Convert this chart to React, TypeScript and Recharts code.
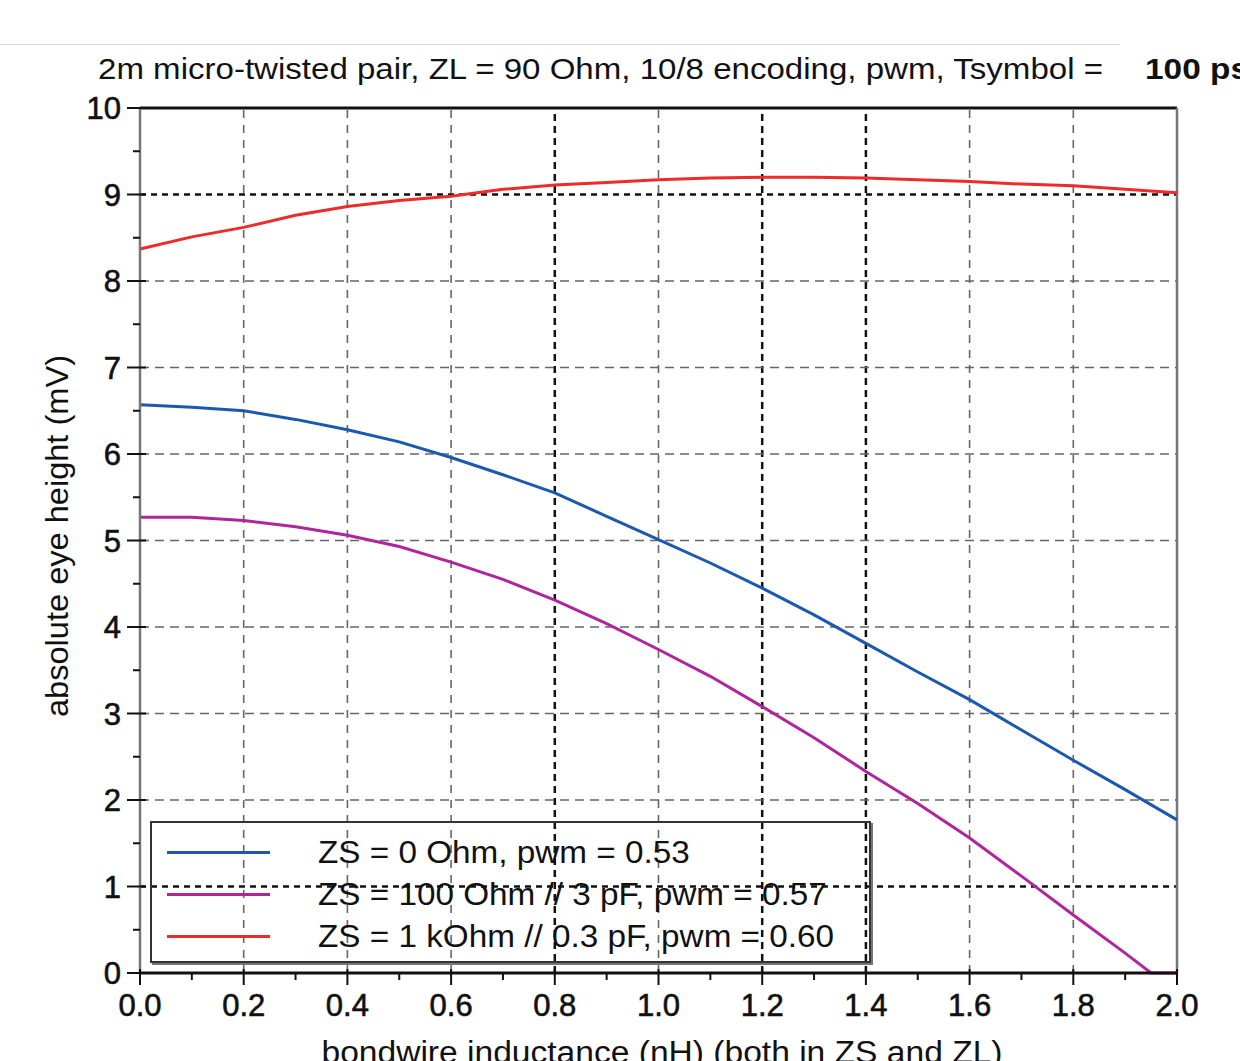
import React from "react";
import { LineChart, Line, XAxis, YAxis, ReferenceLine, Legend } from "recharts";

const titleText = "2m micro-twisted pair, ZL = 90 Ohm, 10/8 encoding, pwm, Tsymbol =";
const titleTail = "100 ps";
const xLabel = "bondwire inductance (nH) (both in ZS and ZL)";
const yLabel = "absolute eye height (mV)";

// x positions (nH)
const xs = [0, 0.1, 0.2, 0.3, 0.4, 0.5, 0.6, 0.7, 0.8, 0.9, 1.0, 1.1, 1.2, 1.3, 1.4, 1.5, 1.6, 1.7, 1.8, 1.9, 2.0];
const xsPurple = [0, 0.1, 0.2, 0.3, 0.4, 0.5, 0.6, 0.7, 0.8, 0.9, 1.0, 1.1, 1.2, 1.3, 1.4, 1.5, 1.6, 1.7, 1.8, 1.9, 1.95, 2.0];

const zs0 = [6.57, 6.54, 6.5, 6.4, 6.28, 6.14, 5.96, 5.76, 5.55, 5.28, 5.01, 4.74, 4.45, 4.14, 3.81, 3.48, 3.16, 2.81, 2.46, 2.12, 1.77];
const zs100 = [5.27, 5.27, 5.23, 5.16, 5.06, 4.93, 4.75, 4.55, 4.31, 4.04, 3.74, 3.43, 3.08, 2.72, 2.33, 1.96, 1.56, 1.12, 0.67, 0.23, 0, 0];
const zs1k = [8.37, 8.51, 8.62, 8.76, 8.86, 8.93, 8.98, 9.06, 9.11, 9.14, 9.17, 9.19, 9.2, 9.2, 9.19, 9.17, 9.15, 9.12, 9.1, 9.06, 9.02];

const seriesNames = [
  "ZS = 0 Ohm, pwm = 0.53",
  "ZS = 100 Ohm // 3 pF, pwm = 0.57",
  "ZS = 1 kOhm // 0.3 pF, pwm = 0.60",
];

const xMajorTicks = [0, 0.2, 0.4, 0.6, 0.8, 1.0, 1.2, 1.4, 1.6, 1.8, 2.0];
const xAllTicks = [0, 0.1, 0.2, 0.3, 0.4, 0.5, 0.6, 0.7, 0.8, 0.9, 1.0, 1.1, 1.2, 1.3, 1.4, 1.5, 1.6, 1.7, 1.8, 1.9, 2.0];
const xTickLabels = ["0.0", "0.2", "0.4", "0.6", "0.8", "1.0", "1.2", "1.4", "1.6", "1.8", "2.0"];
const yMajorTicks = [0, 1, 2, 3, 4, 5, 6, 7, 8, 9, 10];
const yAllTicks = [0, 0.5, 1, 1.5, 2, 2.5, 3, 3.5, 4, 4.5, 5, 5.5, 6, 6.5, 7, 7.5, 8, 8.5, 9, 9.5, 10];

const blueData = xs.map((x, i) => ({ x, y: zs0[i] }));
const purpleData = xsPurple.map((x, i) => ({ x, y: zs100[i] }));
const redData = xs.map((x, i) => ({ x, y: zs1k[i] }));

const FONT = "'Liberation Sans', Arial, sans-serif";
const heavyX = [0.8, 1.2, 1.4];
const heavyY = [1, 9];

const near = (a: number, b: number) => Math.abs(a - b) < 1e-6;

const XTick = (props: any) => {
  const { x, y, payload } = props;
  const idx = xMajorTicks.findIndex((t) => near(t, payload.value));
  const major = idx >= 0;
  return (
    <g>
      <line x1={x} x2={x} y1={y - (major ? 4 : 0)} y2={y + (major ? 12 : 7)} stroke="#111" strokeWidth={2} />
      {major && (
        <text x={x} y={y + 43} textAnchor="middle" fontSize={31} fontFamily={FONT} fill="#111" stroke="#111" strokeWidth={0.6}>
          {xTickLabels[idx]}
        </text>
      )}
    </g>
  );
};

const YTick = (props: any) => {
  const { x, y, payload } = props;
  const major = yMajorTicks.some((t) => near(t, payload.value));
  return (
    <g>
      <line x1={x - (major ? 13 : 7)} x2={x + (major ? 6 : 0)} y1={y} y2={y} stroke="#111" strokeWidth={2} />
      {major && (
        <text x={x - 19} y={y + 11} textAnchor="end" fontSize={31} fontFamily={FONT} fill="#111" stroke="#111" strokeWidth={0.6}>
          {payload.value}
        </text>
      )}
    </g>
  );
};

const LegendBox = (props: any) => {
  const items = [...(props.payload || [])].sort(
    (a: any, b: any) => seriesNames.indexOf(a.value) - seriesNames.indexOf(b.value)
  );
  return (
    <div
      style={{
        width: 717,
        height: 138,
        border: "2px solid #333",
        boxShadow: "2px 2px 0 #777",
        boxSizing: "content-box",
        fontFamily: FONT,
        position: "relative",
      }}
    >
      {items.map((it: any, i: number) => (
        <div key={i} style={{ position: "absolute", left: 0, top: 9 + i * 42, height: 42, width: 717 }}>
          <div style={{ position: "absolute", left: 15, top: 19, width: 103, height: 0, borderTop: `3px solid ${it.color}` }} />
          <div
            style={{
              position: "absolute",
              left: 166,
              top: 2,
              fontSize: 32,
              lineHeight: "36px",
              color: "#111",
              whiteSpace: "nowrap",
              transform: "scaleX(1.04)",
              transformOrigin: "left center",
            }}
          >
            {it.value}
          </div>
        </div>
      ))}
    </div>
  );
};

export default function App() {
  return (
    <div style={{ position: "absolute", left: 0, top: 0, width: 1240, height: 1061, background: "#fff", overflow: "hidden" }}>
      <div style={{ position: "absolute", left: 0, top: 44, width: 1120, height: 0, borderTop: "1px solid #d8d8d8" }} />
      <LineChart width={1240} height={1061} margin={{ top: 108, right: 63, bottom: 28, left: 80 }}>
        <XAxis
          dataKey="x"
          type="number"
          domain={[0, 2]}
          ticks={xAllTicks}
          interval={0}
          tickSize={0}
          tickMargin={0}
          height={60}
          tick={<XTick />}
          axisLine={{ stroke: "#111", strokeWidth: 3 }}
          tickLine={false}
          allowDuplicatedCategory={false}
        />
        <YAxis
          type="number"
          domain={[0, 10]}
          ticks={yAllTicks}
          interval={0}
          tickSize={0}
          tickMargin={0}
          width={60}
          tick={<YTick />}
          axisLine={{ stroke: "#777", strokeWidth: 2.5 }}
          tickLine={false}
        />
        {xMajorTicks.slice(1, -1).map((v) => (
          <ReferenceLine
            key={"gx" + v}
            x={v}
            stroke={heavyX.some((h) => near(h, v)) ? "#111" : "#666"}
            strokeWidth={heavyX.some((h) => near(h, v)) ? 2.5 : 1.6}
            strokeDasharray={heavyX.some((h) => near(h, v)) ? "7 5" : "8 7"}
          />
        ))}
        {yMajorTicks.slice(1, -1).map((v) => (
          <ReferenceLine
            key={"gy" + v}
            y={v}
            stroke={heavyY.includes(v) ? "#111" : "#666"}
            strokeWidth={heavyY.includes(v) ? 2.5 : 1.6}
            strokeDasharray={heavyY.includes(v) ? "6 5" : "9 6"}
          />
        ))}
        <ReferenceLine y={10} stroke="#111" strokeWidth={3} />
        <ReferenceLine x={2} stroke="#777" strokeWidth={2.5} />
        <Line data={blueData} dataKey="y" name={seriesNames[0]} stroke="#1b58b0" strokeWidth={3} dot={false} isAnimationActive={false} type="linear" />
        <Line data={purpleData} dataKey="y" name={seriesNames[1]} stroke="#b0259b" strokeWidth={3} dot={false} isAnimationActive={false} type="linear" />
        <Line data={redData} dataKey="y" name={seriesNames[2]} stroke="#ee2a2a" strokeWidth={3} dot={false} isAnimationActive={false} type="linear" />
        <Legend
          layout="horizontal"
          verticalAlign="middle"
          align="center"
          content={<LegendBox />}
          wrapperStyle={{ left: 150, top: 821, width: 721, height: 142 }}
        />
      </LineChart>
      <svg width={1240} height={1061} style={{ position: "absolute", left: 0, top: 0, pointerEvents: "none" }}>
        <text x={98} y={79} fontSize={30} fontFamily={FONT} fill="#111" textLength={1005} lengthAdjust="spacingAndGlyphs">
          {titleText}
        </text>
        <text x={1145} y={79} fontSize={30} fontFamily={FONT} fontWeight="bold" fill="#111" textLength={104} lengthAdjust="spacingAndGlyphs">
          {titleTail}
        </text>
        <text x={662} y={1063} textAnchor="middle" fontSize={31} fontFamily={FONT} fill="#111" textLength={681} lengthAdjust="spacingAndGlyphs">
          {xLabel}
        </text>
        <text
          x={68}
          y={536}
          textAnchor="middle"
          fontSize={31}
          fontFamily={FONT}
          fill="#111"
          textLength={362}
          lengthAdjust="spacingAndGlyphs"
          transform="rotate(-90 68 536)"
        >
          {yLabel}
        </text>
      </svg>
    </div>
  );
}
